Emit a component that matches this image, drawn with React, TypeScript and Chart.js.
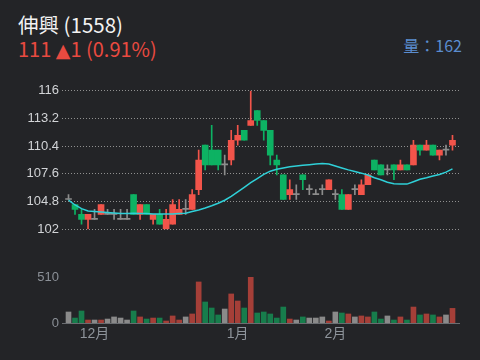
import React, { useEffect, useRef } from 'react';
import { Chart, registerables } from 'chart.js';

Chart.register(...registerables);

const stockTitle = '伸興 (1558)';
const quotePrice = '111 ';
const quoteArrow = '▲';
const quoteChange = '1 (0.91%)';
const volumeText = '量：162';

const openPrices = [
  105, 104.5, 103.5, 103, 103, 103.5, 103.5, 103.5, 103, 103,
  105.5, 103.5, 104.5, 103, 103.5, 102, 102.5, 103.5, 104, 104,
  106, 110.5, 110, 110, 108.5, 109, 111, 112, 112.5, 114,
  113, 112, 109, 107.5, 105.5, 105.5, 107.5, 106, 105.5, 106,
  106, 105.5, 105.5, 104, 106, 105.5, 106.5, 109, 108.5, 108,
  108.5, 108, 108.5, 108.5, 110.5, 110, 110.5, 109.5, 110, 110.5,
];
const highPrices = [
  105.5, 104.5, 104, 103.5, 104, 104.5, 104, 104, 104, 104,
  105.5, 104.5, 104.5, 103.5, 104, 104, 105, 105, 105, 106,
  110, 110.5, 112.5, 110, 109.5, 112, 112.5, 112, 116, 114,
  113, 112, 109.5, 107.5, 107, 106.5, 107.5, 106.5, 106, 106.5,
  107, 106, 106, 105.5, 106.5, 107, 107.5, 109, 108.5, 108.5,
  108.5, 109, 108.5, 111, 110.5, 111, 110.5, 110, 110.5, 111.5,
];
const lowPrices = [
  105, 103.5, 102.5, 102, 103, 103.5, 103.5, 103, 103, 103,
  103.5, 103, 103.5, 102.5, 102.5, 102, 102.5, 103.5, 103.5, 104,
  105.5, 108, 108.5, 108, 107.5, 108.5, 110.5, 111, 112.5, 112.5,
  111, 108.5, 107.5, 105, 105, 105, 106, 105.5, 105.5, 105.5,
  106, 105, 104, 104, 105.5, 105.5, 106.5, 108, 107.5, 107.5,
  107, 108, 108, 108.5, 109.5, 110, 109.5, 109, 109.5, 110,
];
const closePrices = [
  105, 104, 103, 103.5, 103, 104.5, 103.5, 103.5, 103, 103,
  103.5, 104.5, 103.5, 103.5, 102.5, 103, 104.5, 104, 104, 105.5,
  109, 108.5, 108.5, 108.5, 108.5, 111, 111.5, 111, 113, 113,
  112, 109.5, 108.5, 105, 106, 105.5, 107, 106, 105.5, 106,
  107, 105.5, 104, 105.5, 106, 106.5, 107.5, 108, 107.5, 108,
  108, 108.5, 108, 110.5, 110, 110.5, 109.5, 110, 110, 111,
];
const ma20 = [
  104.95, 104.45, 104.08, 103.85, 103.8, 103.75, 103.7, 103.65, 103.6, 103.6,
  103.62, 103.6, 103.6, 103.55, 103.55, 103.55, 103.55, 103.6, 103.62, 103.78,
  103.95, 104.15, 104.38, 104.63, 104.93, 105.33, 105.78, 106.24, 106.7, 107.12,
  107.54, 107.87, 108.07, 108.2, 108.32, 108.39, 108.46, 108.52, 108.59, 108.65,
  108.6, 108.4, 108.2, 108.0, 107.83, 107.67, 107.48, 107.2, 107.0, 106.75,
  106.6, 106.56, 106.56, 106.8, 107.05, 107.2, 107.38, 107.54, 107.77, 108.1,
];
const volumes = [
  122, 55, 133, 33, 33, 33, 44, 67, 55, 33,
  133, 67, 44, 55, 55, 22, 78, 33, 67, 100,
  455, 233, 166, 89, 155, 322, 244, 166, 510, 111,
  122, 100, 55, 177, 44, 33, 67, 55, 55, 67,
  22, 122, 111, 100, 67, 78, 67, 122, 44, 78,
  33, 67, 33, 177, 89, 100, 89, 67, 89, 162,
];
const priceTicks = [102, 104.8, 107.6, 110.4, 113.2, 116];
const volumeTicks = [0, 510];
const monthTickIndex = [4, 26, 41];
const monthTickLabels = ['12月', '1月', '2月'];

const UP = '#f2544a';
const DOWN = '#0db263';
const FLAT = '#8c8c8c';
const VUP = '#a53f38';
const VDOWN = '#177d4c';
const VFLAT = '#8a8a8a';
const BG = '#232427';

function dirColor(i: number, up: string, down: string, flat: string) {
  if (closePrices[i] > openPrices[i]) return up;
  if (closePrices[i] < openPrices[i]) return down;
  return flat;
}

export default function App() {
  const priceRef = useRef<HTMLCanvasElement>(null);
  const volRef = useRef<HTMLCanvasElement>(null);

  useEffect(() => {
    const idx = openPrices.map((_, i) => i);
    const candleColors = idx.map((i) => dirColor(i, UP, DOWN, FLAT));
    const volColors = idx.map((i) => dirColor(i, VUP, VDOWN, VFLAT));
    const family = "'Liberation Sans', 'Noto Sans CJK TC', sans-serif";

    const priceChart = new Chart(priceRef.current as HTMLCanvasElement, {
      type: 'bar',
      data: {
        datasets: [
          {
            type: 'line',
            data: idx.map((i) => ({ x: i, y: ma20[i] })),
            borderColor: '#2fd0d8',
            borderWidth: 1.5,
            pointRadius: 0,
            tension: 0,
            order: 0,
          } as any,
          {
            type: 'bar',
            data: idx.map((i) => ({ x: i, y: [openPrices[i], closePrices[i]] })),
            backgroundColor: candleColors,
            barThickness: 6,
            minBarLength: 1,
            grouped: false,
            order: 1,
          } as any,
          {
            type: 'bar',
            data: idx.map((i) => ({ x: i, y: [lowPrices[i], highPrices[i]] })),
            backgroundColor: candleColors,
            barThickness: 1,
            grouped: false,
            order: 2,
          } as any,
        ],
      },
      options: {
        animation: false,
        responsive: false,
        events: [],
        layout: { padding: { top: 10, bottom: 7, left: 0, right: 21 } },
        plugins: { legend: { display: false }, tooltip: { enabled: false } },
        scales: {
          x: { type: 'linear', min: -1, max: 60, offset: false, display: false },
          y: {
            type: 'linear',
            min: 102,
            max: 116,
            afterBuildTicks: (s: any) => {
              s.ticks = priceTicks.map((v) => ({ value: v }));
            },
            afterFit: (s: any) => {
              s.width = 62;
            },
            ticks: {
              color: '#d2d4d7',
              font: { size: 13, family },
              padding: 3,
              callback: (v: any) => String(v),
            },
            grid: { color: '#909090', drawTicks: false, lineWidth: 1 },
            border: { display: false, dash: [1, 2] },
          },
        },
      } as any,
    });

    const volChart = new Chart(volRef.current as HTMLCanvasElement, {
      type: 'bar',
      data: {
        datasets: [
          {
            data: idx.map((i) => ({ x: i, y: volumes[i] })),
            backgroundColor: volColors,
            barThickness: 5,
          } as any,
        ],
      },
      options: {
        animation: false,
        responsive: false,
        events: [],
        layout: { padding: { top: 12, bottom: 0, left: 0, right: 21 } },
        plugins: { legend: { display: false }, tooltip: { enabled: false } },
        scales: {
          x: {
            type: 'linear',
            min: -1,
            max: 60,
            offset: false,
            afterBuildTicks: (s: any) => {
              s.ticks = monthTickIndex.map((v) => ({ value: v }));
            },
            afterFit: (s: any) => {
              s.height = 37;
            },
            ticks: {
              autoSkip: false,
              maxRotation: 0,
              padding: 3,
              color: '#8e949b',
              font: { size: 14, family },
              callback: (v: any) => {
                const k = monthTickIndex.indexOf(Number(v));
                return k >= 0 ? monthTickLabels[k] : '';
              },
            },
            grid: { display: false, drawTicks: false },
            border: { display: true, color: '#6a6d71', width: 1 },
          },
          y: {
            type: 'linear',
            min: 0,
            max: 510,
            afterBuildTicks: (s: any) => {
              s.ticks = volumeTicks.map((v) => ({ value: v }));
            },
            afterFit: (s: any) => {
              s.width = 62;
            },
            ticks: {
              color: '#8b9097',
              font: { size: 13, family },
              padding: 3,
              callback: (v: any) => String(v),
            },
            grid: { display: false, drawTicks: false },
            border: { display: false },
          },
        },
      } as any,
    });

    return () => {
      priceChart.destroy();
      volChart.destroy();
    };
  }, []);

  const headFont = "'Noto Sans CJK TC', sans-serif";

  return (
    <div
      style={{
        position: 'fixed',
        left: 0,
        top: 0,
        width: 480,
        height: 360,
        background: BG,
        overflow: 'hidden',
      }}
    >
      <div
        style={{
          position: 'absolute',
          left: 18,
          top: 14,
          fontFamily: headFont,
          fontSize: 20.5,
          lineHeight: '21px',
          color: '#f2f2f2',
          whiteSpace: 'nowrap',
        }}
      >
        {stockTitle}
      </div>
      <div
        style={{
          position: 'absolute',
          left: 18,
          top: 39,
          fontFamily: headFont,
          fontSize: 20,
          lineHeight: '20px',
          color: '#e94a40',
          whiteSpace: 'nowrap',
        }}
      >
        {quotePrice}
        <span style={{ fontFamily: "'DejaVu Sans', sans-serif", fontSize: 19 }}>{quoteArrow}</span>
        {quoteChange}
      </div>
      <div
        style={{
          position: 'absolute',
          right: 18,
          top: 37,
          fontFamily: headFont,
          fontSize: 16,
          lineHeight: '16px',
          color: '#5b8dcf',
          whiteSpace: 'nowrap',
        }}
      >
        {volumeText}
      </div>
      <canvas
        ref={priceRef}
        width={480}
        height={160}
        style={{ position: 'absolute', left: 0, top: 80, width: 480, height: 160 }}
      />
      <canvas
        ref={volRef}
        width={480}
        height={95}
        style={{ position: 'absolute', left: 0, top: 265, width: 480, height: 95 }}
      />
    </div>
  );
}
